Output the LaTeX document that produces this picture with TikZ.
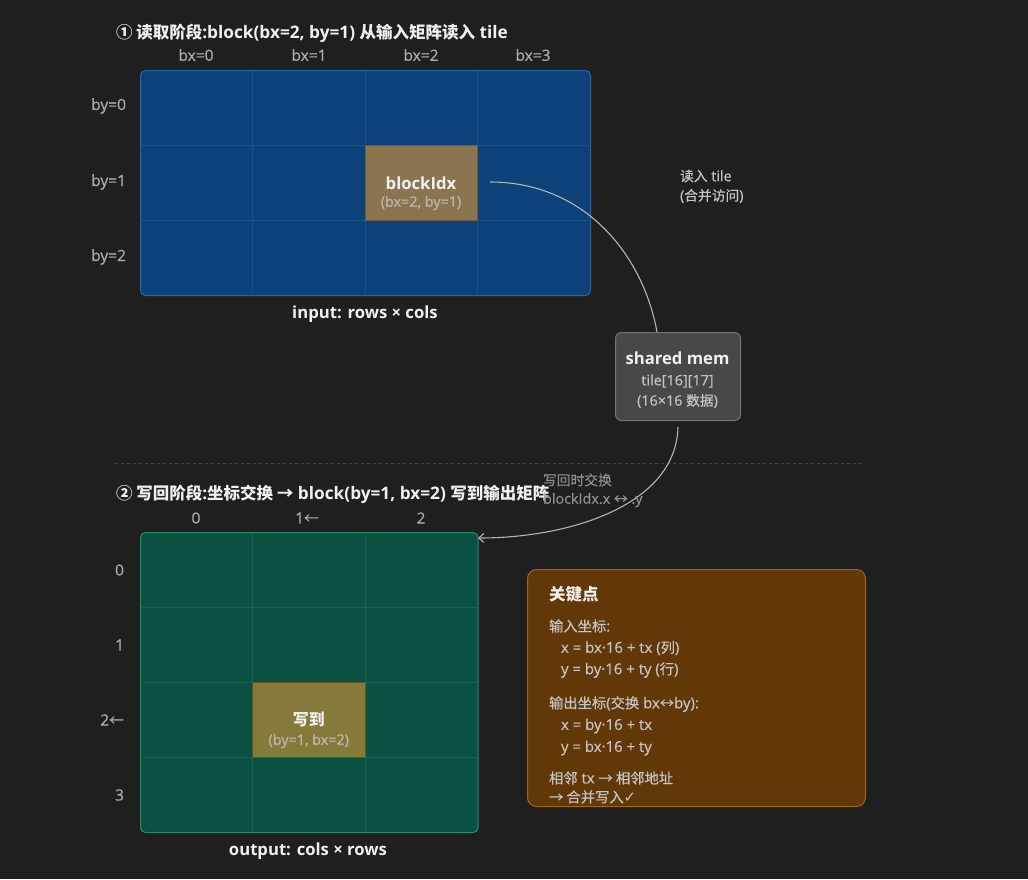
\documentclass[tikz,border=0pt]{standalone}
\usepackage{fontspec}
\setmainfont{Open Sans}[Scale=1.15]
\newfontfamily\med{Open Sans}[Scale=1.15,FakeBold=0.5]
\newfontfamily\cjk{Noto Sans CJK SC}[Scale=1.1]
\newfontfamily\cjkm{Noto Sans CJK SC}[Scale=1.1,FakeBold=0.4]
\newfontfamily\djv{DejaVu Sans}
\usetikzlibrary{arrows.meta}
\definecolor{bg}{HTML}{1F1F1F}
\definecolor{infill}{HTML}{0C4279}
\definecolor{indraw}{HTML}{2A64A8}
\definecolor{ingrid}{HTML}{1E5088}
\definecolor{hlfill}{HTML}{8A7550}
\definecolor{hldraw}{HTML}{6C5C3E}
\definecolor{outfill}{HTML}{0A5142}
\definecolor{outdraw}{HTML}{2A8A70}
\definecolor{outgrid}{HTML}{1A6250}
\definecolor{ohlfill}{HTML}{857A3A}
\definecolor{ohldraw}{HTML}{5E5628}
\definecolor{smfill}{HTML}{484848}
\definecolor{smdraw}{HTML}{747474}
\definecolor{keyfill}{HTML}{623809}
\definecolor{keydraw}{HTML}{A0661A}
\definecolor{txtw}{HTML}{F0F0F0}
\definecolor{txtg}{HTML}{C4C4C4}
\definecolor{txtd}{HTML}{ABABAB}
\definecolor{conn}{HTML}{B4B4B4}
\tikzset{
  title/.style={anchor=west,text=txtw,font=\fontsize{15}{18}\selectfont\bfseries},
  axlab/.style={text=txtd,font=\fontsize{13.5}{16}\selectfont\med},
  caption/.style={text=txtw,font=\fontsize{14.5}{18}\selectfont\bfseries},
  cellbox/.style={minimum width=112.5pt,minimum height=75pt,inner sep=0pt,align=center},
  note/.style={anchor=west,text=txtg,font=\fontsize{12.5}{16}\selectfont\med},
  keyt/.style={anchor=west,text=txtg,font=\fontsize{13}{16}\selectfont\med},
  conline/.style={draw=conn,line width=1.1pt},
}
\begin{document}
\begin{tikzpicture}[x=1pt,y=-1pt]
\fill[bg] (0,0) rectangle (1028,879);
\useasboundingbox (0,0) rectangle (1028,879);

% ---------- stage 1 ----------
\node[title] (t1) at (112,33) {{\cjk ① 读取阶段}:block(bx=2, by=1) {\cjk 从输入矩阵读入} tile};
\node[draw=indraw,fill=infill,rounded corners=5pt,line width=1pt,minimum width=450pt,minimum height=225pt,inner sep=0pt,anchor=north west] (inm) at (140,70) {};
\foreach \x in {252.5,365,477.5} \draw[ingrid,line width=0.8pt] (\x,71) -- (\x,294);
\foreach \y in {145,220} \draw[ingrid,line width=0.8pt] (141,\y) -- (589,\y);
\foreach \i/\x in {0/196,1/309,2/421,3/533} \node[axlab] (cx\i) at (\x,55) {bx=\i};
\foreach \i/\y in {0/106,1/182,2/257} \node[axlab,anchor=east] (ry\i) at (130,\y) {by=\i};
\node[cellbox,fill=hlfill,draw=hldraw,line width=1pt] (hl) at (421.25,182.5) {};
\node[text=txtw,font=\fontsize{14.5}{18}\selectfont\bfseries] (hlt) at (421,183) {blockIdx};
\node[text=txtg!85!hlfill,font=\fontsize{12.5}{16}\selectfont\med] (hls) at (421,203) {(bx=2, by=1)};
\node[caption] (incap) at (365,314) {input: rows × cols};

% ---------- shared mem ----------
\node[draw=smdraw,fill=smfill,rounded corners=6pt,line width=1pt,minimum width=125pt,minimum height=88pt,inner sep=0pt,anchor=north west] (sm) at (615,332) {};
\node[text=txtw,font=\fontsize{14.5}{18}\selectfont\bfseries] (smt) at (677.5,358) {shared mem};
\node[text=txtg,font=\fontsize{12.5}{16}\selectfont\med] (sm2) at (677.5,381) {tile[16][17]};
\node[text=txtg,font=\fontsize{12.5}{16}\selectfont\med] (sm3) at (677.5,401) {(16×16 {\cjkm 数据})};

\coordinate (c1s) at (490,182);
\coordinate (c1e) at (657,332);
\draw[conline] (c1s) .. controls (585,182) and (643,255) .. (c1e);
\node[note] (n1a) at (676,176) {{\cjkm 读入} tile};
\node[note] (n1b) at (676,196) {({\cjkm 合并访问})};

% separator
\coordinate (sepl) at (115,463);
\coordinate (sepr) at (862,463);
\draw[draw=txtd!25!bg,dashed,dash pattern=on 3pt off 3pt,line width=0.8pt] (sepl) -- (sepr);

% ---------- stage 2 ----------
\node[title] (t2) at (112,494) {{\cjk ② 写回阶段}:{\cjk 坐标交换 →} block(by=1, bx=2) {\cjk 写到输出矩阵}};
\node[draw=outdraw,fill=outfill,rounded corners=5pt,line width=1pt,minimum width=337.5pt,minimum height=300pt,inner sep=0pt,anchor=north west] (outm) at (140,532) {};
\foreach \x in {252.5,365} \draw[outgrid,line width=0.8pt] (\x,533) -- (\x,831);
\foreach \y in {607,682,757} \draw[outgrid,line width=0.8pt] (141,\y) -- (476.5,\y);
\node[axlab] (oc0) at (196,518) {0};
\node[axlab] (oc1) at (307,518) {1{\cjkm ←}};
\node[axlab] (oc2) at (421,518) {2};
\node[axlab,anchor=east] (or0) at (128,570) {0};
\node[axlab,anchor=east] (or1) at (128,645) {1};
\node[axlab,anchor=east] (or2) at (128,720) {2{\cjkm ←}};
\node[axlab,anchor=east] (or3) at (128,795) {3};
\node[cellbox,fill=ohlfill,draw=ohldraw,line width=1pt] (ohl) at (308.75,719.5) {};
\node[text=txtw,font=\fontsize{14.5}{18}\selectfont\bfseries\cjk] (ohlt) at (308.75,719) {写到};
\node[text=txtg!85!ohlfill,font=\fontsize{12.5}{16}\selectfont\med] (ohls) at (308.75,741) {(by=1, bx=2)};
\node[caption] (outcap) at (308,851) {output: cols × rows};

\coordinate (c2s) at (678,427);
\coordinate (c2e) at (478,538);
\draw[conline,-{Straight Barb[length=5pt,width=9pt,line width=1.1pt]}] (c2s) .. controls (676,505) and (570,538) .. (c2e);
\node[note,text=txtd!80!bg] (n2a) at (539,480) {\cjkm 写回时交换};
\node[note,text=txtd!80!bg] (n2b) at (539,500) {blockIdx.x {\cjkm ↔} .y};

% ---------- key box ----------
\node[draw=keydraw,fill=keyfill,rounded corners=9pt,line width=1pt,minimum width=338pt,minimum height=237pt,inner sep=0pt,anchor=north west] (kb) at (527,569) {};
\node[anchor=west,text=txtw,font=\fontsize{15}{18}\selectfont\bfseries\cjk] (k0) at (545,594) {关键点};
\node[keyt] (k1) at (545,626) {{\cjkm 输入坐标}:};
\node[keyt] (k2) at (557,648) {x = bx·16 + tx ({\cjkm 列})};
\node[keyt] (k3) at (557,670) {y = by·16 + ty ({\cjkm 行})};
\node[keyt] (k4) at (545,704) {{\cjkm 输出坐标}({\cjkm 交换} bx{\cjkm ↔}by):};
\node[keyt] (k5) at (557,726) {x = by·16 + tx};
\node[keyt] (k6) at (557,748) {y = bx·16 + ty};
\node[keyt] (k7) at (545,778) {{\cjkm 相邻} tx {\cjkm → 相邻地址}};
\node[keyt] (k8) at (545,797) {{\cjkm → 合并写入}{\djv\fontsize{15}{16}\selectfont ✓}};
\end{tikzpicture}
\end{document}
